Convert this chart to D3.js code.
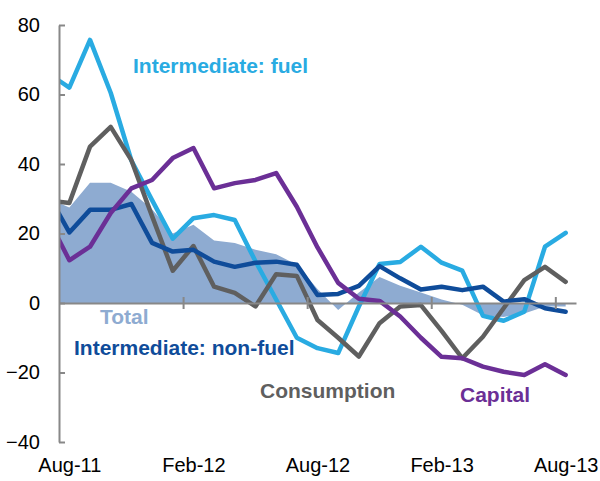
<!DOCTYPE html>
<html>
<head>
<meta charset="utf-8">
<script src="https://cdn.jsdelivr.net/npm/d3@7"></script>
<style>
  body { margin: 0; background: #fff; }
  svg { display: block; font-family: Arial, "Liberation Sans", sans-serif; }
</style>
</head>
<body>
<div id="chart"></div>
<script>
// months, first one (Jul-11) sits just left of the axis and is clipped
const months = ['Jul-11','Aug-11','Sep-11','Oct-11','Nov-11','Dec-11','Jan-12','Feb-12','Mar-12','Apr-12',
  'May-12','Jun-12','Jul-12','Aug-12','Sep-12','Oct-12','Nov-12','Dec-12','Jan-13','Feb-13','Mar-13',
  'Apr-13','May-13','Jun-13','Jul-13','Aug-13'];

const total = [30, 27.5, 34.6, 34.6, 32, 27, 20, 22.5, 18, 17.3, 15.3, 14, 11, 4, -2, 3, 7.5, 5, 3, 1, -0.5, -3.5, -4, -3, -1, -1];
const fuel = [66, 62, 75.7, 60.5, 41, 29.6, 18.5, 24.4, 25.3, 23.9, 12, 1, -10, -13, -14.4, -1, 11.2, 11.8, 16.2, 11.6, 9.3, -3.7, -5.1, -2.5, 16.2, 20.2];
const consumption = [29.5, 28.8, 45, 50.7, 41.1, 25, 9.3, 16.4, 4.7, 2.9, -1, 8.3, 7.8, -4.9, -10, -15.4, -5.8, -1, -0.6, -8, -15.9, -9.7, -1.5, 6.6, 10.4, 6.1];
const nonFuel = [31, 20.3, 26.8, 26.8, 28.5, 17.3, 14.8, 15.3, 11.9, 10.4, 11.6, 11.9, 11, 2.3, 2.6, 4.9, 10.6, 7.1, 3.9, 4.7, 3.7, 4.7, 0.4, 1.1, -1.5, -2.5];
const capital = [24, 12.3, 16.2, 25.9, 33, 35.4, 41.7, 44.6, 33, 34.5, 35.4, 37.4, 27.7, 16, 5.8, 1.2, 0.6, -3.9, -10, -15.5, -15.9, -18.3, -19.8, -20.7, -17.6, -20.7];

const yTicks = [-40, -20, 0, 20, 40, 60, 80];
const xLabels = ['Aug-11', 'Feb-12', 'Aug-12', 'Feb-13', 'Aug-13'];

const width = 600;
const height = 481;
const plotLeft = 59, plotRight = 576, plotTop = 25, plotBottom = 442;

const svg = d3.select('#chart')
  .append('svg')
  .attr('width', width)
  .attr('height', height);

// index 1 = Aug-11; categories sit between tick marks
const x = d3.scaleLinear()
  .domain([0.5, months.length - 0.5])
  .range([plotLeft, plotRight]);

const y = d3.scaleLinear()
  .domain([-40, 80])
  .range([plotBottom, plotTop]);

svg.append('clipPath')
  .attr('id', 'plot')
  .append('rect')
  .attr('x', plotLeft)
  .attr('y', 0)
  .attr('width', plotRight - plotLeft + 10)
  .attr('height', height);

const plot = svg.append('g').attr('clip-path', 'url(#plot)');

plot.append('path')
  .datum(total)
  .attr('fill', '#8eabd1')
  .attr('d', d3.area().x((d, i) => x(i)).y0(y(0)).y1(d => y(d)));

// x axis on the zero line, ticks every 6 months
const xAxis = d3.axisBottom(x)
  .tickValues(xLabels.map((d, i) => 0.5 + i * 6).slice(1))
  .tickFormat('')
  .tickSizeOuter(0);

const gx = svg.append('g')
  .attr('transform', 'translate(0,' + y(0) + ')')
  .call(xAxis);
gx.select('.domain').attr('stroke', '#888').attr('stroke-width', 2);
gx.selectAll('.tick line').attr('stroke', '#888').attr('stroke-width', 2).attr('y1', -6).attr('y2', 6);

const series = [
  { values: fuel, color: '#29abe2' },
  { values: consumption, color: '#5f5f5f' },
  { values: nonFuel, color: '#0f4c9a' },
  { values: capital, color: '#6b2f96' }
];

const line = d3.line().x((d, i) => x(i)).y(d => y(d));

plot.selectAll('.series')
  .data(series)
  .enter()
  .append('path')
  .attr('class', 'series')
  .attr('fill', 'none')
  .attr('stroke', d => d.color)
  .attr('stroke-width', 4.5)
  .attr('stroke-linejoin', 'round')
  .attr('stroke-linecap', 'round')
  .attr('d', d => line(d.values));

// y axis, ticks pointing into the plot
const yAxis = d3.axisLeft(y)
  .tickValues(yTicks)
  .tickSizeInner(-6)
  .tickSizeOuter(0)
  .tickPadding(19);

const gy = svg.append('g')
  .attr('transform', 'translate(' + plotLeft + ',0)')
  .call(yAxis);
gy.select('.domain').attr('stroke', '#888').attr('stroke-width', 2);
gy.selectAll('.tick line').attr('stroke', '#888').attr('stroke-width', 2);
gy.selectAll('text').attr('font-size', 20).attr('fill', '#000');
gy.attr('font-family', null);

// month labels under the plot
const xLab = d3.axisBottom(x)
  .tickValues(xLabels.map((d, i) => 1 + i * 6))
  .tickFormat((d, i) => xLabels[i])
  .tickSize(0)
  .tickPadding(16);

const gl = svg.append('g')
  .attr('transform', 'translate(0,' + plotBottom + ')')
  .call(xLab);
gl.select('.domain').remove();
gl.selectAll('text').attr('font-size', 20).attr('fill', '#000');
gl.attr('font-family', null);

// series labels
const labels = [
  { text: 'Intermediate: fuel', x: 133, y: 73, color: '#29abe2' },
  { text: 'Total', x: 100, y: 324, color: '#8eabd1' },
  { text: 'Intermediate: non-fuel', x: 74, y: 355, color: '#0f4c9a' },
  { text: 'Consumption', x: 260, y: 398, color: '#5f5f5f' },
  { text: 'Capital', x: 460, y: 402, color: '#6b2f96' }
];

svg.selectAll('.label')
  .data(labels)
  .enter()
  .append('text')
  .attr('class', 'label')
  .attr('x', d => d.x)
  .attr('y', d => d.y)
  .attr('fill', d => d.color)
  .attr('font-size', 21)
  .attr('font-weight', 'bold')
  .text(d => d.text);
</script>
</body>
</html>
